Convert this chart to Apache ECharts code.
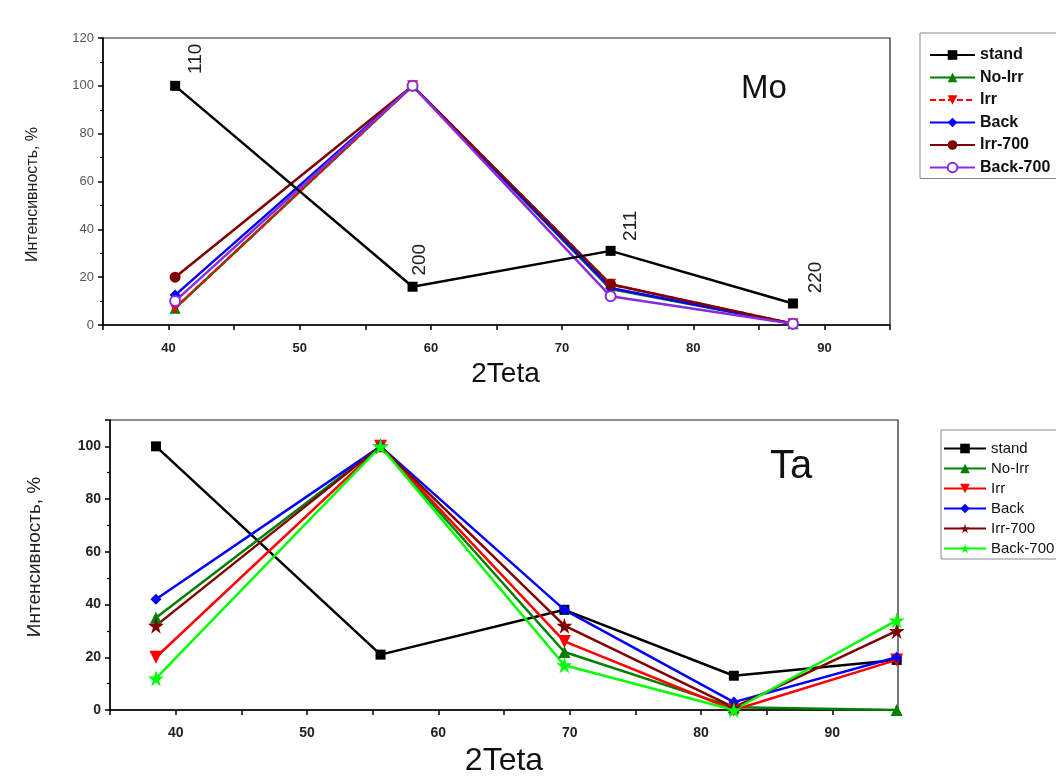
<!DOCTYPE html>
<html>
<head>
<meta charset="utf-8">
<script src="https://cdn.jsdelivr.net/npm/echarts@6/dist/echarts.min.js"></script>
<style>
  html, body { margin: 0; padding: 0; background: #fff; }
  #mo { position: absolute; left: 0; top: 0; width: 1056px; height: 390px; }
  #ta { position: absolute; left: 0; top: 390px; width: 1056px; height: 386px; }
</style>
</head>
<body>
<div id="mo"></div>
<div id="ta"></div>
<script>
// Mo data (2Teta positions of peaks 110, 200, 211, 220)
const moX = [40.5, 58.6, 73.7, 87.6];
const moPeaks = ['110', '200', '211', '220'];
const moStand = [100, 16, 31, 9];
const moNoIrr = [7, 100, 15, 0.5];
const moIrr = [7, 100, 17, 0.5];
const moBack = [12.5, 100, 15.5, 0.5];
const moIrr700 = [20, 100, 17, 0.5];
const moBack700 = [10, 100, 12, 0.5];

// Ta data
const taX = [38.5, 55.6, 69.6, 82.5, 94.9];
const taStand = [100, 21, 38, 13, 19];
const taNoIrr = [35, 100, 22, 1, 0];
const taIrr = [20, 100, 26, 0, 19];
const taBack = [42, 100, 38, 3, 20];
const taIrr700 = [32, 100, 32, 1, 30];
const taBack700 = [12, 100, 17, 0, 34];

const names = ['stand', 'No-Irr', 'Irr', 'Back', 'Irr-700', 'Back-700'];
const FONT = 'Liberation Sans, Arial, sans-serif';
const STAR = 'path://M50,0 L61,35 L98,35 L68,57 L79,91 L50,70 L21,91 L32,57 L2,35 L39,35 Z';

// screen shift of each peak label from its point, px
const peakOffsets = [[21, -27], [7, -27], [20, -25], [23, -26]];

function pairs(xs, ys) {
  return xs.map((x, i) => [x, ys[i]]);
}

function lineSeries(name, xs, ys, color, symbol, size, extra) {
  return Object.assign({
    name: name,
    type: 'line',
    data: pairs(xs, ys),
    symbol: symbol,
    symbolSize: size,
    color: color,
    lineStyle: { color: color, width: 2.5 },
    itemStyle: { color: color },
    z: 2
  }, extra || {});
}

function axisCommon() {
  return {
    axisLine: { lineStyle: { color: '#000', width: 1.5 } },
    axisTick: { inside: false, length: 5, lineStyle: { color: '#000', width: 1.5 } },
    minorTick: { show: true, splitNumber: 2, length: 3, lineStyle: { color: '#000', width: 1.2 } },
    splitLine: { show: false }
  };
}

// ---------- Mo ----------
const moChart = echarts.init(document.getElementById('mo'));

const standMo = lineSeries('stand', moX, moStand, '#000000', 'rect', 10, { z: 5 });
standMo.data = moX.map((x, i) => ({
  value: [x, moStand[i]],
  label: {
    show: true,
    formatter: moPeaks[i],
    position: 'inside',
    rotate: 90,
    // label offset works in the rotated frame
    offset: [-peakOffsets[i][1], peakOffsets[i][0]],
    fontFamily: FONT,
    fontSize: 19,
    color: '#222'
  }
}));

moChart.setOption({
  animation: false,
  textStyle: { fontFamily: FONT },
  grid: {
    left: 103, top: 38, right: 166, bottom: 65,
    outerBoundsMode: 'none', containLabel: false,
    show: true, borderColor: '#222', borderWidth: 1.2
  },
  xAxis: Object.assign(axisCommon(), {
    type: 'value', min: 35, max: 95, interval: 5,
    minorTick: { show: false },
    name: '2Teta', nameLocation: 'middle', nameGap: 34,
    nameTextStyle: { fontSize: 28, color: '#111', fontFamily: FONT, padding: [0, 0, 0, 18] },
    axisLabel: {
      margin: 17, fontSize: 13, fontWeight: 'bold', color: '#222', fontFamily: FONT,
      formatter: v => (v % 10 === 0 ? String(v) : '')
    }
  }),
  yAxis: Object.assign(axisCommon(), {
    type: 'value', min: 0, max: 120, interval: 20,
    name: 'Интенсивность, %', nameLocation: 'middle', nameGap: 62,
    nameTextStyle: { fontSize: 16, color: '#222', fontFamily: FONT, padding: [0, 26, 0, 0] },
    axisLabel: { margin: 9, fontSize: 13, color: '#555', fontFamily: FONT }
  }),
  legend: {
    orient: 'vertical',
    left: 920, top: 33,
    padding: [14, 30, 3, 9],
    itemWidth: 45, itemHeight: 12, itemGap: 6.5,
    borderColor: '#888', borderWidth: 1,
    textStyle: { fontSize: 16, fontWeight: 'bold', color: '#111', fontFamily: FONT },
    data: names
  },
  graphic: [{
    type: 'text', left: 741, top: 72,
    style: { text: 'Mo', fontSize: 33, fill: '#111', fontFamily: FONT }
  }],
  series: [
    standMo,
    lineSeries('No-Irr', moX, moNoIrr, '#008000', 'triangle', 11),
    lineSeries('Irr', moX, moIrr, '#ff0000', 'triangle', 11, {
      symbolRotate: 180,
      lineStyle: { color: '#ff0000', width: 2.5, type: [6, 3] }
    }),
    lineSeries('Back', moX, moBack, '#0000ff', 'diamond', 11),
    lineSeries('Irr-700', moX, moIrr700, '#800000', 'circle', 11),
    lineSeries('Back-700', moX, moBack700, '#8a2be2', 'emptyCircle', 10, {
      itemStyle: { color: '#8a2be2', borderWidth: 1.5 }
    })
  ]
});

// ---------- Ta ----------
const taChart = echarts.init(document.getElementById('ta'));

taChart.setOption({
  animation: false,
  textStyle: { fontFamily: FONT },
  grid: {
    left: 110, top: 30, right: 158, bottom: 66,
    outerBoundsMode: 'none', containLabel: false,
    show: true, borderColor: '#222', borderWidth: 1.2
  },
  xAxis: Object.assign(axisCommon(), {
    type: 'value', min: 35, max: 95, interval: 5,
    minorTick: { show: false },
    name: '2Teta', nameLocation: 'middle', nameGap: 30,
    nameTextStyle: { fontSize: 32, color: '#111', fontFamily: FONT },
    axisLabel: {
      margin: 16, fontSize: 14, fontWeight: 'bold', color: '#222', fontFamily: FONT,
      formatter: v => (v % 10 === 0 ? String(v) : '')
    }
  }),
  yAxis: Object.assign(axisCommon(), {
    type: 'value', min: 0, max: 110, interval: 20,
    name: 'Интенсивность, %', nameLocation: 'middle', nameGap: 66,
    nameTextStyle: { fontSize: 19, color: '#222', fontFamily: FONT, padding: [0, 0, 0, 16] },
    axisLabel: { margin: 9, fontSize: 14, fontWeight: 'bold', color: '#222', fontFamily: FONT, showMaxLabel: false }
  }),
  legend: {
    orient: 'vertical',
    left: 941, top: 40,
    padding: [11, 30, 3, 2],
    itemWidth: 42, itemHeight: 12, itemGap: 5,
    borderColor: '#888', borderWidth: 1,
    textStyle: { fontSize: 15, color: '#111', fontFamily: FONT },
    data: names
  },
  graphic: [{
    type: 'text', left: 770, top: 57,
    style: { text: 'Ta', fontSize: 40, fill: '#111', fontFamily: FONT }
  }],
  series: [
    lineSeries('stand', taX, taStand, '#000000', 'rect', 10, { z: 1 }),
    lineSeries('No-Irr', taX, taNoIrr, '#008000', 'triangle', 12),
    lineSeries('Irr', taX, taIrr, '#ff0000', 'triangle', 13, { symbolRotate: 180 }),
    lineSeries('Back', taX, taBack, '#0000ff', 'diamond', 11),
    lineSeries('Irr-700', taX, taIrr700, '#800000', STAR, 16),
    lineSeries('Back-700', taX, taBack700, '#00ff00', STAR, 16)
  ]
});
</script>
</body>
</html>
